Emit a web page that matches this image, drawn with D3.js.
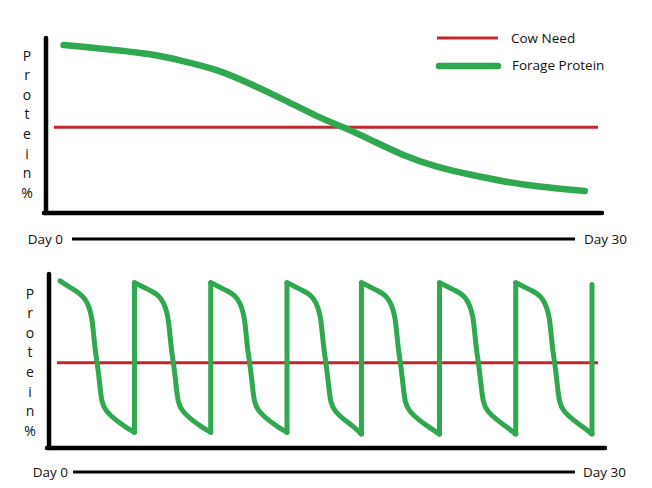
<!DOCTYPE html>
<html lang="en">
<head>
    <meta charset="UTF-8">
    <title>Forage Protein vs Cow Need</title>
    <script src="https://d3js.org/d3.v7.min.js"></script>
    <style>
        body { margin: 0; background: #fff; }
        text { font-family: "Open Sans", sans-serif; font-size: 13.5px; fill: #111; }
        .letter { font-size: 14px; }
    </style>
</head>
<body>
    <div id="chart"></div>
    <script>
        // ---- data (protein on an arbitrary 0-100 scale, day 0-30) ----
        const dayLabels = ["Day 0", "Day 30"];
        const yLetters = ["P", "r", "o", "t", "e", "i", "n", "%"];
        const legendNames = ["Cow Need", "Forage Protein"];
        const cowNeed = 49;

        // top panel: steady decline
        const trendDays   = [0.2, 1.3, 3.2, 5.1, 6.9, 8.9, 10.7, 12.6, 14.5, 16.0, 17.5, 19.3, 21.3, 23.1, 25.0, 26.9, 29.6];
        const trendValues = [96, 95, 93, 91, 87, 82, 74, 65, 55, 49, 42, 33, 26, 22, 18, 15, 12.6];

        // bottom panel: rotational grazing, one array per move
        const pulseDays = [
            [0, 0.6, 1.1, 1.4, 1.65, 1.8, 1.9, 2.0, 2.1, 2.25, 2.35, 2.6, 3.15, 3.7, 4.2],
            [4.2, 4.8, 5.4, 5.7, 5.95, 6.1, 6.2, 6.3, 6.4, 6.55, 6.65, 6.9, 7.45, 8.0, 8.5],
            [8.5, 9.1, 9.7, 10.0, 10.25, 10.4, 10.5, 10.6, 10.7, 10.85, 10.95, 11.2, 11.75, 12.3, 12.8],
            [12.8, 13.4, 14.0, 14.3, 14.55, 14.7, 14.8, 14.9, 15.0, 15.15, 15.25, 15.5, 16.05, 16.6, 17.0],
            [17.0, 17.6, 18.2, 18.5, 18.75, 18.9, 19.0, 19.1, 19.2, 19.35, 19.45, 19.7, 20.25, 20.8, 21.4],
            [21.4, 22.0, 22.6, 22.9, 23.15, 23.3, 23.4, 23.5, 23.6, 23.75, 23.85, 24.1, 24.65, 25.2, 25.7],
            [25.7, 26.3, 26.9, 27.2, 27.45, 27.6, 27.7, 27.8, 27.9, 28.05, 28.15, 28.4, 28.95, 29.5, 30.0]
        ];
        const pulseValues = [
            [96, 92, 89, 86, 81, 75, 65, 55, 49, 36, 26, 21, 16, 12, 9],
            [95, 92, 89, 86, 81, 75, 65, 55, 49, 36, 26, 21, 16, 12, 9],
            [95, 92, 89, 86, 81, 75, 65, 55, 49, 36, 26, 21, 16, 12, 9],
            [95, 92, 89, 86, 81, 75, 65, 55, 49, 36, 26, 21, 16, 12, 8],
            [95, 92, 89, 86, 81, 75, 65, 55, 49, 36, 26, 21, 16, 12, 8],
            [95, 92, 89, 86, 81, 75, 65, 55, 49, 36, 26, 21, 16, 12, 8],
            [95, 92, 89, 86, 81, 75, 65, 55, 49, 36, 26, 21, 16, 12, 8]
        ];
        const finalRise = { day: 30.0, from: 8, to: 94 };

        const red = "#c1272d", green = "#2fa84f";
        const width = 652, height = 488;

        const svg = d3.select("#chart")
            .append("svg")
            .attr("width", width)
            .attr("height", height);

        const x = d3.scaleLinear().domain([0, 30]).range([60, 592]);

        const panels = [
            { left: 46, right: 602, top: 38, bottom: 213, labelX: 27, letterTop: 55,
              dayY: 239, day0End: 63, lineStart: 72, lineEnd: 575, day30Start: 584 },
            { left: 49, right: 605, top: 274, bottom: 448, labelX: 30, letterTop: 293,
              dayY: 472, day0End: 68, lineStart: 73, lineEnd: 575, day30Start: 583 }
        ];

        function drawFrame(p, y) {
            const g = svg.append("g");

            // thick L-shaped axes
            g.append("line")
                .attr("x1", p.left).attr("x2", p.left)
                .attr("y1", p.top).attr("y2", p.bottom)
                .attr("stroke", "#000").attr("stroke-width", 4.5)
                .attr("stroke-linecap", "round");
            g.append("line")
                .attr("x1", p.left - 2).attr("x2", p.right)
                .attr("y1", p.bottom).attr("y2", p.bottom)
                .attr("stroke", "#000").attr("stroke-width", 4.5)
                .attr("stroke-linecap", "round");

            // vertical "Protein %" label, one letter per row
            g.selectAll(".letter")
                .data(yLetters)
                .enter().append("text")
                .attr("class", "letter")
                .attr("text-anchor", "middle")
                .attr("dominant-baseline", "central")
                .attr("x", p.labelX)
                .attr("y", (d, i) => p.letterTop + i * 19.6)
                .text(d => d);

            // Day 0 ------ Day 30 time line
            g.append("text")
                .attr("text-anchor", "end")
                .attr("dominant-baseline", "central")
                .attr("x", p.day0End).attr("y", p.dayY)
                .text(dayLabels[0]);
            g.append("line")
                .attr("x1", p.lineStart).attr("x2", p.lineEnd)
                .attr("y1", p.dayY).attr("y2", p.dayY)
                .attr("stroke", "#000").attr("stroke-width", 3);
            g.append("text")
                .attr("dominant-baseline", "central")
                .attr("x", p.day30Start).attr("y", p.dayY)
                .text(dayLabels[1]);

            // cow need line
            g.append("line")
                .attr("x1", p.left + 8).attr("x2", 598)
                .attr("y1", y(cowNeed)).attr("y2", y(cowNeed))
                .attr("stroke", red).attr("stroke-width", 3);
            return g;
        }

        // ---- top panel ----
        const yTop = d3.scaleLinear().domain([0, 100]).range([panels[0].bottom, panels[0].top]);
        const gTop = drawFrame(panels[0], yTop);

        const trend = trendDays.map((d, i) => ({ day: d, value: trendValues[i] }));
        gTop.append("path")
            .datum(trend)
            .attr("fill", "none")
            .attr("stroke", green)
            .attr("stroke-width", 6.5)
            .attr("stroke-linecap", "round")
            .attr("d", d3.line()
                .x(d => x(d.day))
                .y(d => yTop(d.value))
                .curve(d3.curveBasis));

        // legend
        const legend = svg.append("g");
        legend.append("line")
            .attr("x1", 437).attr("x2", 498).attr("y1", 38).attr("y2", 38)
            .attr("stroke", red).attr("stroke-width", 3);
        legend.append("line")
            .attr("x1", 439).attr("x2", 498).attr("y1", 66).attr("y2", 66)
            .attr("stroke", green).attr("stroke-width", 6.5)
            .attr("stroke-linecap", "round");
        legend.selectAll(".legend-text")
            .data(legendNames)
            .enter().append("text")
            .attr("class", "legend-text")
            .attr("dominant-baseline", "central")
            .attr("x", (d, i) => 511 + i)
            .attr("y", (d, i) => 38 + i * 27)
            .text(d => d);

        // ---- bottom panel ----
        const yBot = d3.scaleLinear().domain([0, 100]).range([panels[1].bottom, panels[1].top]);
        const gBot = drawFrame(panels[1], yBot);

        const pulses = pulseDays.map((days, k) =>
            days.map((d, i) => ({ day: d, value: pulseValues[k][i] })));

        const pulseLine = d3.line()
            .x(d => x(d.day))
            .y(d => yBot(d.value))
            .curve(d3.curveBasis);

        gBot.selectAll(".pulse")
            .data(pulses)
            .enter().append("path")
            .attr("class", "pulse")
            .attr("fill", "none")
            .attr("stroke", green)
            .attr("stroke-width", 5)
            .attr("stroke-linecap", "round")
            .attr("stroke-linejoin", "round")
            .attr("d", pulseLine);

        // vertical jumps when the herd moves to fresh forage
        const risers = pulses.map((p, k) => {
            const last = p[p.length - 1];
            const next = k < pulses.length - 1 ? pulses[k + 1][0].value : finalRise.to;
            return [last, { day: last.day, value: next }];
        });

        gBot.selectAll(".riser")
            .data(risers)
            .enter().append("path")
            .attr("class", "riser")
            .attr("fill", "none")
            .attr("stroke", green)
            .attr("stroke-width", 5)
            .attr("stroke-linecap", "round")
            .attr("d", d3.line().x(d => x(d.day)).y(d => yBot(d.value)));
    </script>
</body>
</html>
